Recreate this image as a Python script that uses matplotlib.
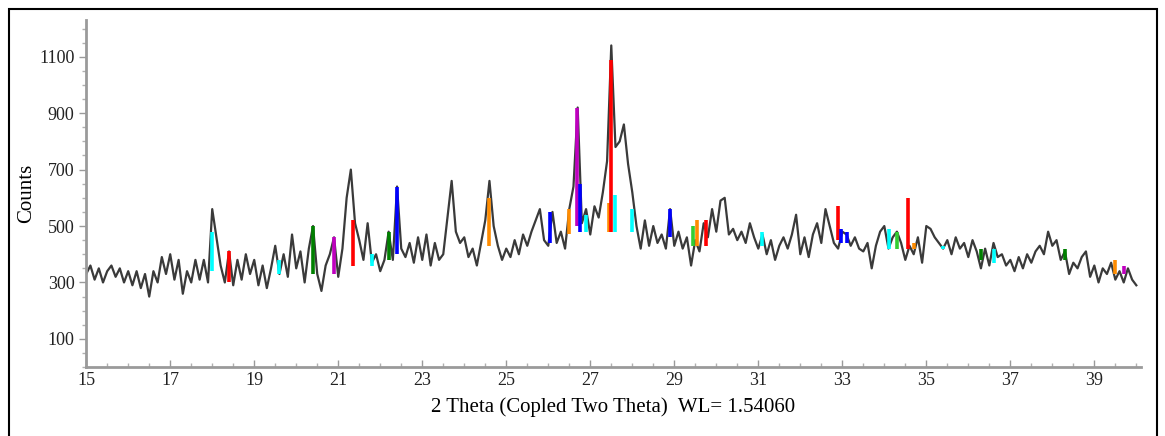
import numpy as np
import matplotlib
matplotlib.use("Agg")
import matplotlib.pyplot as plt
from matplotlib.patches import Rectangle

# scan 15.0 .. 40.0 deg, step 0.1
two_theta = np.round(np.arange(15.0, 40.05, 0.1), 2)
counts = [
    330, 360, 310, 350, 300, 340, 360, 320, 350, 300, 340,
    290, 340, 280, 330, 250, 340, 300, 390, 330, 400,
    310, 380, 260, 340, 300, 380, 310, 380, 300, 560,
    460, 360, 300, 410, 290, 380, 310, 400, 330, 380,
    290, 360, 280, 350, 430, 330, 400, 320, 470, 350,
    410, 300, 420, 500, 330, 270, 360, 400, 460, 320,
    420, 600, 700, 510, 450, 380, 510, 370, 400, 340,
    380, 480, 380, 640, 420, 390, 440, 370, 460, 380,
    470, 360, 440, 380, 400, 530, 660, 480, 440, 460,
    390, 420, 360, 440, 520, 660, 500, 430, 380, 420,
    390, 450, 400, 470, 430, 480, 520, 560, 450, 430,
    550, 440, 480, 420, 560, 640, 920, 510, 560, 470,
    570, 530, 620, 730, 1140, 780, 800, 860, 720, 620,
    500, 420, 520, 430, 500, 440, 470, 420, 560, 430,
    480, 420, 460, 360, 450, 410, 510, 460, 560, 480,
    590, 600, 470, 490, 450, 480, 440, 510, 460, 420,
    470, 400, 450, 380, 430, 460, 420, 470, 540, 400,
    460, 390, 470, 510, 440, 560, 500, 440, 420, 480,
    470, 430, 460, 420, 410, 440, 350, 430, 480, 500,
    420, 460, 480, 440, 380, 430, 400, 460, 370, 500,
    490, 460, 440, 420, 450, 400, 460, 420, 440, 390,
    450, 410, 350, 420, 360, 440, 390, 400, 360, 380,
    340, 390, 350, 400, 370, 410, 430, 400, 480, 430,
    450, 380, 410, 330, 370, 350, 390, 410, 320, 360,
    300, 350, 330, 370, 310, 340, 300, 350, 310, 290,
]

# identified reflections (position, bottom, top, colour)
stick_pos = [18.0, 18.4, 19.6, 20.4, 20.9, 21.35, 21.8, 22.2, 22.4, 24.6,
             26.05, 26.5, 26.68, 26.75, 26.9, 27.45, 27.5, 27.6, 28.0, 28.9,
             29.45, 29.55, 29.75, 31.1, 32.9, 32.97, 33.1, 34.1, 34.3, 34.57,
             34.7, 35.4, 36.3, 36.6, 38.3, 39.5, 39.7]
stick_bot = [340, 300, 330, 330, 330, 360, 360, 380, 400, 430,
             440, 470, 500, 480, 480, 480, 480, 480, 480, 460,
             430, 430, 430, 430, 450, 440, 440, 420, 420, 420,
             420, 420, 380, 370, 380, 330, 330]
stick_top = [480, 410, 380, 500, 460, 520, 400, 480, 640, 600,
             550, 560, 920, 650, 540, 580, 1090, 610, 560, 560,
             500, 520, 520, 480, 570, 490, 480, 490, 480, 600,
             440, 430, 420, 420, 420, 380, 360]
stick_col = ["cyan", "red", "cyan", "green", "m", "red", "cyan", "green", "blue", "darkorange",
             "blue", "darkorange", "m", "blue", "cyan", "darkorange", "red", "cyan", "cyan", "blue",
             "limegreen", "darkorange", "red", "cyan", "red", "blue", "blue", "cyan", "limegreen", "red",
             "darkorange", "cyan", "green", "cyan", "green", "darkorange", "m"]

fig = plt.figure(figsize=(11.65, 4.36), dpi=100)
ax = fig.add_axes([0.074, 0.158, 0.905, 0.796])

ax.plot(two_theta, counts, color="#3a3a3a", lw=1.6, zorder=2)
ax.vlines(stick_pos, stick_bot, stick_top, colors=stick_col, lw=2.6, zorder=3)

ax.set_xlim(15, 40.1)
ax.set_ylim(0, 1230)
ax.set_xticks(np.arange(15, 40, 2))
ax.set_xticks(np.arange(15, 40.1, 0.5), minor=True)
ax.set_yticks(np.arange(100, 1200, 200))
ax.set_yticks(np.arange(0, 1230, 50), minor=True)

for s in ["top", "right"]:
    ax.spines[s].set_visible(False)
for s in ["left", "bottom"]:
    ax.spines[s].set_color("#9a9a9a")
    ax.spines[s].set_linewidth(2)

serif = ["Liberation Serif", "DejaVu Serif"]
ax.tick_params(axis="both", which="major", colors="#9a9a9a", length=5, width=1,
               labelcolor="#222222", labelsize=13)
ax.tick_params(axis="both", which="minor", colors="#b0b0b0", length=3, width=1)
ax.tick_params(axis="x", which="both", direction="in")
for lab in ax.get_xticklabels() + ax.get_yticklabels():
    lab.set_family(serif)

ax.set_ylabel("Counts", family=serif, fontsize=15, labelpad=2)
ax.set_xlabel("2 Theta (Copled Two Theta)  WL= 1.54060", family=serif, fontsize=15, labelpad=6)

fig.patches.append(Rectangle((0.008, -0.01), 0.985, 0.99, transform=fig.transFigure,
                             fill=False, edgecolor="black", lw=1.5))

fig.savefig("out.png", dpi=100)
